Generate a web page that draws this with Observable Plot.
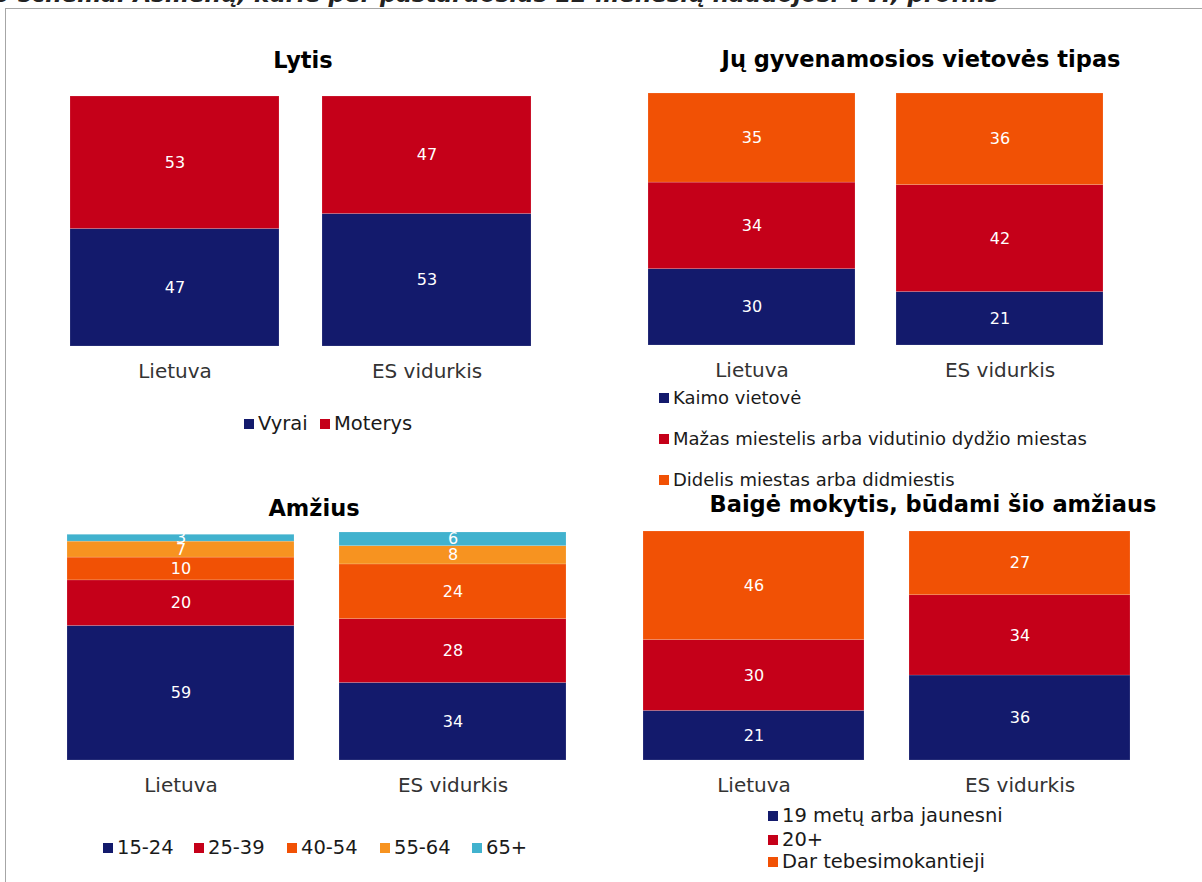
<!DOCTYPE html>
<html><head><meta charset="utf-8">
<script src="https://cdn.jsdelivr.net/npm/d3@7"></script>
<script src="https://cdn.jsdelivr.net/npm/@observablehq/plot@0.6"></script>
<style>
body{margin:0;background:#fff;font-family:"DejaVu Sans",Verdana,sans-serif;overflow:hidden;}
#root{position:relative;width:1202px;height:882px;overflow:hidden;}
.abs{position:absolute;}
.title{position:absolute;font-weight:bold;font-size:22.5px;color:#000;transform:translate(-50%,-50%);white-space:nowrap;}
.leg{position:absolute;font-size:19.5px;color:#1a1a1a;white-space:nowrap;display:flex;align-items:center;}
.sw{display:inline-block;width:10px;height:10px;margin-right:4px;}
</style></head>
<body><div id="root"></div>
<script>
const categories = ["Lietuva", "ES vidurkis"];
const colors = ["#131A6C", "#C50019", "#F15105", "#F79320", "#41B2CE"];

const sexSeries = ["Vyrai", "Moterys"];
const sexLietuva = [47, 53];
const sexES = [53, 47];

const placeSeries = ["Kaimo vietovė", "Mažas miestelis arba vidutinio dydžio miestas", "Didelis miestas arba didmiestis"];
const placeLietuva = [30, 34, 35];
const placeES = [21, 42, 36];

const ageSeries = ["15-24", "25-39", "40-54", "55-64", "65+"];
const ageLietuva = [59, 20, 10, 7, 3];
const ageES = [34, 28, 24, 8, 6];

const eduSeries = ["19 metų arba jaunesni", "20+", "Dar tebesimokantieji"];
const eduLietuva = [21, 30, 46];
const eduES = [36, 34, 27];

const root = document.getElementById("root");

function rows(series, lt, es) {
  const out = [];
  series.forEach((s, i) => out.push({cat: categories[0], s, v: lt[i]}));
  series.forEach((s, i) => out.push({cat: categories[1], s, v: es[i]}));
  return out;
}

function panel({series, lt, es, left, top, width, height, mt, mb, ml, mr, pad, ymax}) {
  const data = rows(series, lt, es);
  const chart = Plot.plot({
    width, height,
    marginTop: mt, marginBottom: mb, marginLeft: ml, marginRight: mr,
    style: {background: "transparent", fontFamily: "DejaVu Sans, Verdana, sans-serif"},
    x: {domain: categories, paddingInner: pad, paddingOuter: pad / 2, label: null},
    y: {domain: [0, ymax], axis: null},
    color: {domain: series, range: colors.slice(0, series.length)},
    marks: [
      Plot.barY(data, Plot.stackY({x: "cat", y: "v", fill: "s", z: "s", order: null, stroke: "#ffffff", strokeOpacity: 0.25, strokeWidth: 0.6})),
      Plot.text(data, Plot.stackY({x: "cat", y: "v", z: "s", order: null, text: d => String(d.v), fill: "white", fontSize: 16})),
      Plot.axisX({tickSize: 0, tickPadding: 17, fontSize: 20, color: "#333", label: null})
    ]
  });
  chart.style.position = "absolute";
  chart.style.left = left + "px";
  chart.style.top = top + "px";
  root.appendChild(chart);
}

function title(text, x, y) {
  const d = document.createElement("div");
  d.className = "title"; d.textContent = text;
  d.style.left = x + "px"; d.style.top = y + "px";
  root.appendChild(d);
}
function legItem(text, color, x, y, fs) {
  const d = document.createElement("div");
  d.className = "leg";
  d.style.left = x + "px"; d.style.top = (y - 12) + "px";
  if (fs) d.style.fontSize = fs + "px";
  const s = document.createElement("span"); s.className = "sw"; s.style.background = color;
  d.appendChild(s);
  d.appendChild(document.createTextNode(text));
  root.appendChild(d);
}

// frame
const fr = document.createElement("div");
fr.className = "abs";
Object.assign(fr.style, {left: "5px", top: "8px", width: "1300px", height: "1000px", border: "1.5px solid #a6a6a6"});
root.appendChild(fr);

// cut-off main title
const mt = document.createElement("div");
mt.className = "abs";
Object.assign(mt.style, {left: "-6px", top: "-19px", fontSize: "23px", fontWeight: "bold", fontStyle: "italic", color: "#222", whiteSpace: "nowrap"});
mt.textContent = "3 schema. Asmenų, kurie per pastaruosius 12 mėnesių naudojosi VVI, profilis";
root.appendChild(mt);

panel({series: sexSeries, lt: sexLietuva, es: sexES, left: 0, top: 80, width: 600, height: 310, mt: 16, mb: 44, ml: 48.5, mr: 47.5, pad: 0.17, ymax: 100});
panel({series: placeSeries, lt: placeLietuva, es: placeES, left: 600, top: 80, width: 602, height: 310, mt: 13, mb: 45, ml: 27.5, mr: 78.5, pad: 0.165, ymax: 99});
panel({series: ageSeries, lt: ageLietuva, es: ageES, left: 0, top: 520, width: 600, height: 310, mt: 12, mb: 70, ml: 44.5, mr: 11.5, pad: 0.165, ymax: 100});
panel({series: eduSeries, lt: eduLietuva, es: eduES, left: 600, top: 520, width: 602, height: 310, mt: 11, mb: 70, ml: 20.5, mr: 49.5, pad: 0.169, ymax: 97});

title("Lytis", 303, 60);
title("Jų gyvenamosios vietovės tipas", 921, 59);
title("Amžius", 314, 508);
title("Baigė mokytis, būdami šio amžiaus", 933, 504);

// legends
legItem(sexSeries[0], colors[0], 244, 424);
legItem(sexSeries[1], colors[1], 320, 424);
placeSeries.forEach((s, i) => legItem(s, colors[i], 659, [399, 440, 481][i], 18));
const ageX = [103, 194, 287, 380, 472];
ageSeries.forEach((s, i) => legItem(s, colors[i], ageX[i], 848));
eduSeries.forEach((s, i) => legItem(s, colors[i], 768, [816, 840, 862][i]));
</script></body></html>
